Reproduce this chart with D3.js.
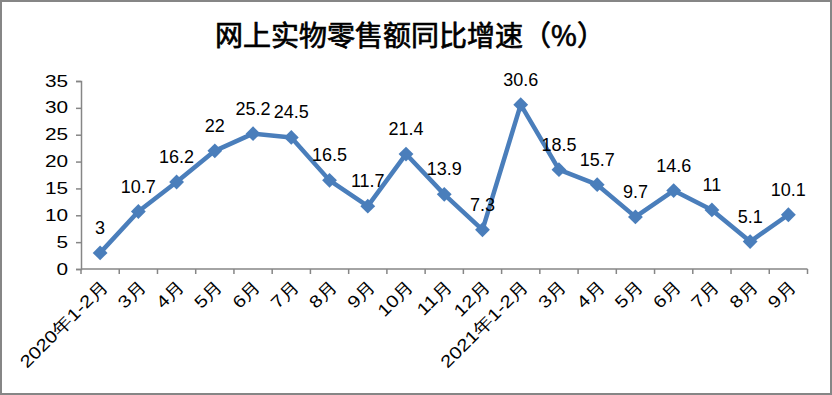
<!DOCTYPE html>
<html>
<head>
<meta charset="utf-8">
<script src="https://cdn.jsdelivr.net/npm/d3@7"></script>
<style>
  body { margin: 0; background: #fff; }
  svg text { font-family: "Liberation Sans", Arial, sans-serif; fill: #000; }
</style>
</head>
<body>
<div id="chart"></div>
<script>
// == Data ====================================================================

const title = '网上实物零售额同比增速（%）'
const months = ['2020年1-2月', '3月', '4月', '5月', '6月', '7月', '8月', '9月', '10月', '11月', '12月',
  '2021年1-2月', '3月', '4月', '5月', '6月', '7月', '8月', '9月']
const growth = [3, 10.7, 16.2, 22, 25.2, 24.5, 16.5, 11.7, 21.4, 13.9, 7.3,
  30.6, 18.5, 15.7, 9.7, 14.6, 11, 5.1, 10.1]
const yTicks = [0, 5, 10, 15, 20, 25, 30, 35]

// == Layout ==================================================================

const width = 832
const height = 395
const plotLeft = 81, plotRight = 807.5, plotTop = 81, plotBottom = 269
const blue = '#4a7ebb'
const grey = '#868686'

const svg = d3.select('#chart').append('svg')
  .attr('width', width)
  .attr('height', height)

// outer frame
svg.append('rect')
  .attr('x', 1).attr('y', 1)
  .attr('width', width - 2).attr('height', height - 2)
  .attr('fill', '#fff')
  .attr('stroke', grey)
  .attr('stroke-width', 2)

// title, regular weight thickened a little (closer to the heiti look)
svg.append('text')
  .attr('x', 410).attr('y', 46)
  .attr('text-anchor', 'middle')
  .style('font-family', '"Noto Sans CJK SC", sans-serif')
  .style('font-size', '28px')
  .style('font-weight', 'normal')
  .attr('stroke', '#000')
  .attr('stroke-width', 0.7)
  .text(title)

const x = d3.scaleBand()
  .domain(d3.range(months.length))
  .range([plotLeft, plotRight])

const y = d3.scaleLinear()
  .domain([0, 35])
  .range([plotBottom, plotTop])

// y axis
const yAxis = svg.append('g')
  .attr('transform', `translate(${plotLeft},0)`)
  .call(d3.axisLeft(y).tickValues(yTicks).tickSize(5).tickPadding(8))
yAxis.attr('font-family', null).attr('font-size', null)
yAxis.select('.domain').attr('stroke', grey).attr('stroke-width', 1.5)
yAxis.selectAll('.tick line').attr('stroke', grey).attr('stroke-width', 1.5)
yAxis.selectAll('.tick text')
  .style('font-size', '16px')
  .attr('transform', function () {
    // Excel draws these labels slightly stretched
    const tx = +d3.select(this).attr('x')
    return `translate(${tx},0) scale(1.3,1) translate(${-tx},0)`
  })

// x axis: ticks on category boundaries
const xAxis = svg.append('g')
  .attr('transform', `translate(0,${plotBottom})`)
xAxis.append('line')
  .attr('x1', plotLeft).attr('x2', plotRight)
  .attr('stroke', grey).attr('stroke-width', 1.5)
xAxis.selectAll('.bound')
  .data(d3.range(months.length + 1))
  .join('line')
  .attr('class', 'bound')
  .attr('x1', d => plotLeft + d * x.step())
  .attr('x2', d => plotLeft + d * x.step())
  .attr('y1', 0).attr('y2', 5)
  .attr('stroke', grey).attr('stroke-width', 1.5)
xAxis.selectAll('.lab')
  .data(months)
  .join('text')
  .attr('class', 'lab')
  .attr('text-anchor', 'end')
  .style('font-size', '17px')
  .attr('transform', (d, i) =>
    `translate(${x(i) + x.bandwidth() / 2 + 9},${18}) rotate(-45) scale(1.2,1)`)
  .text(d => d)

// line
const line = d3.line()
  .x((d, i) => x(i) + x.bandwidth() / 2)
  .y(d => y(d))

svg.append('path')
  .datum(growth)
  .attr('d', line)
  .attr('fill', 'none')
  .attr('stroke', blue)
  .attr('stroke-width', 4.5)
  .attr('stroke-linejoin', 'round')

svg.selectAll('.marker')
  .data(growth)
  .join('path')
  .attr('class', 'marker')
  .attr('d', d3.symbol(d3.symbolSquare, 110))
  .attr('transform', (d, i) => `translate(${x(i) + x.bandwidth() / 2},${y(d)}) rotate(45)`)
  .attr('fill', blue)

// value labels
svg.selectAll('.val')
  .data(growth)
  .join('text')
  .attr('class', 'val')
  .attr('text-anchor', 'middle')
  .attr('x', (d, i) => x(i) + x.bandwidth() / 2)
  .attr('y', d => y(d) - 19)
  .style('font-size', '18px')
  .text(d => d)
</script>
</body>
</html>
